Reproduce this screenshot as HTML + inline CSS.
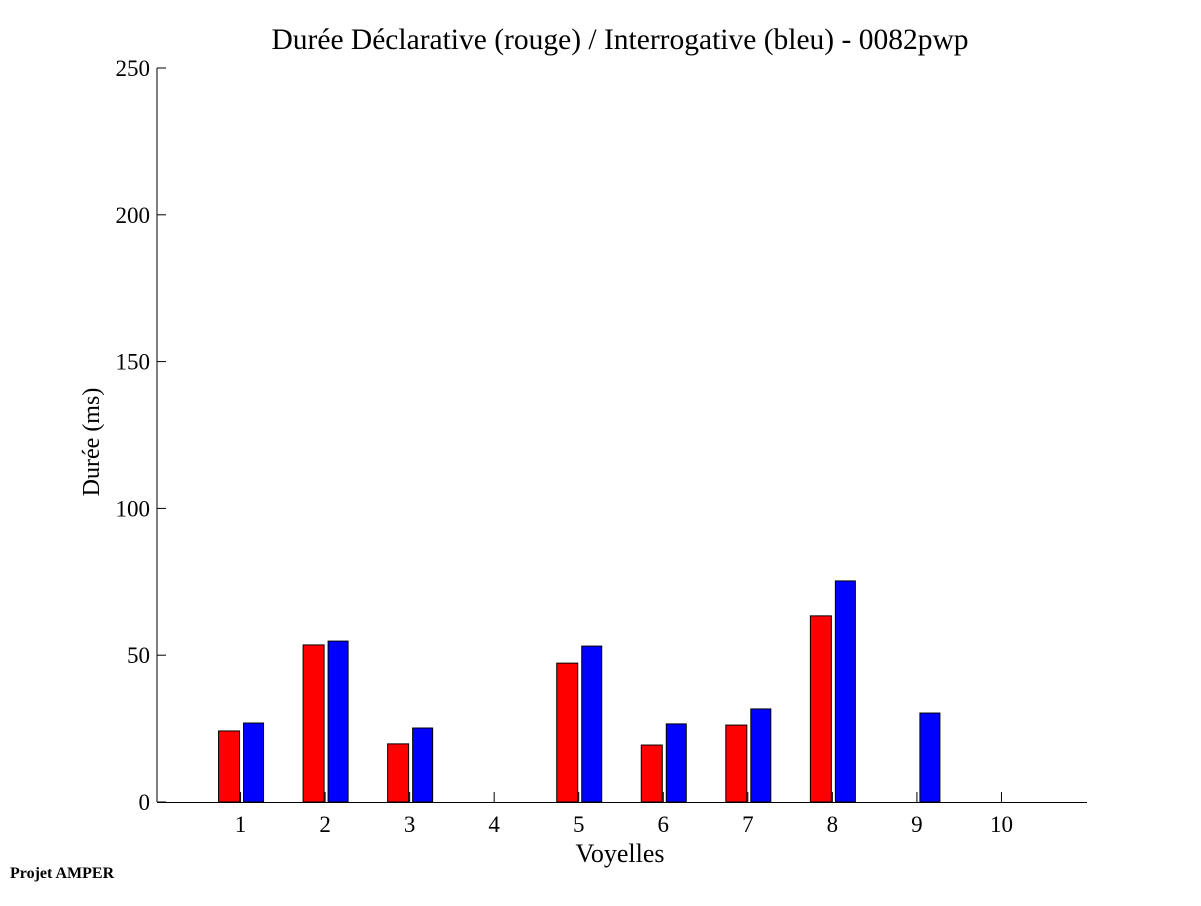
<!DOCTYPE html>
<html><head><meta charset="utf-8"><style>
body{margin:0;background:#fff;}
text{font-family:"Liberation Serif",serif;fill:#000;}
</style></head><body>
<svg width="1201" height="901" xmlns="http://www.w3.org/2000/svg">
<g id="marks"></g>
<g id="axes"></g>
<text x="620" y="49" font-size="29.5" text-anchor="middle">Durée Déclarative (rouge) / Interrogative (bleu) - 0082pwp</text>
<text x="620" y="862" font-size="26" text-anchor="middle">Voyelles</text>
<text transform="translate(99,442) rotate(-90)" font-size="24" text-anchor="middle">Durée (ms)</text>
<text x="10" y="878" font-size="16" font-weight="bold">Projet AMPER</text>
</svg>
<script>
const categories=[1,2,3,4,5,6,7,8,9,10];
const redValues=[24.2,53.5,19.8,0,47.3,19.4,26.2,63.4,0,0];
const blueValues=[26.9,54.8,25.2,0,53.1,26.6,31.7,75.3,30.3,0];
const yTicks=[0,50,100,150,200,250];
const NS="http://www.w3.org/2000/svg";
const X0=157,X1=1087,Y0=802,Y1=68;
const xs=v=>X0+(X1-X0)*v/11-1;
const ys=v=>Y0-(Y0-Y1)*v/250;
const marks=document.getElementById('marks'),axes=document.getElementById('axes');
function mk(tag,attrs,parent){const e=document.createElementNS(NS,tag);for(const k in attrs)e.setAttribute(k,attrs[k]);parent.appendChild(e);return e;}
categories.forEach((c,i)=>{
  const cx=xs(c);
  if(redValues[i]>0){const r=mk('rect',{x:cx-22,y:ys(redValues[i]),width:21,height:Y0-ys(redValues[i]),fill:'#ff0000',stroke:'#000','stroke-width':1},marks);
    
    }
  if(blueValues[i]>0){const b=mk('rect',{x:cx+3,y:ys(blueValues[i]),width:20,height:Y0-ys(blueValues[i]),fill:'#0000ff',stroke:'#000','stroke-width':1},marks);
    
    }
  mk('line',{x1:cx,x2:cx,y1:Y0,y2:Y0-10,stroke:'#000'},axes);
  const t=mk('text',{x:cx,y:Y0+30,'font-size':23,'text-anchor':'middle'},axes);t.textContent=c;
  
  
});
yTicks.forEach(v=>{
  const y=ys(v);
  mk('line',{x1:X0,x2:X0+9,y1:y,y2:y,stroke:'#000'},axes);
  const t=mk('text',{x:X0-7,y:y+8,'font-size':23,'text-anchor':'end'},axes);t.textContent=v;
  
  
});
mk('line',{x1:X0,x2:X0,y1:Y1,y2:Y0,stroke:'#000'},axes);
mk('line',{x1:X0,x2:X1,y1:Y0+0.5,y2:Y0+0.5,stroke:'#000'},axes);
</script>
</body></html>
